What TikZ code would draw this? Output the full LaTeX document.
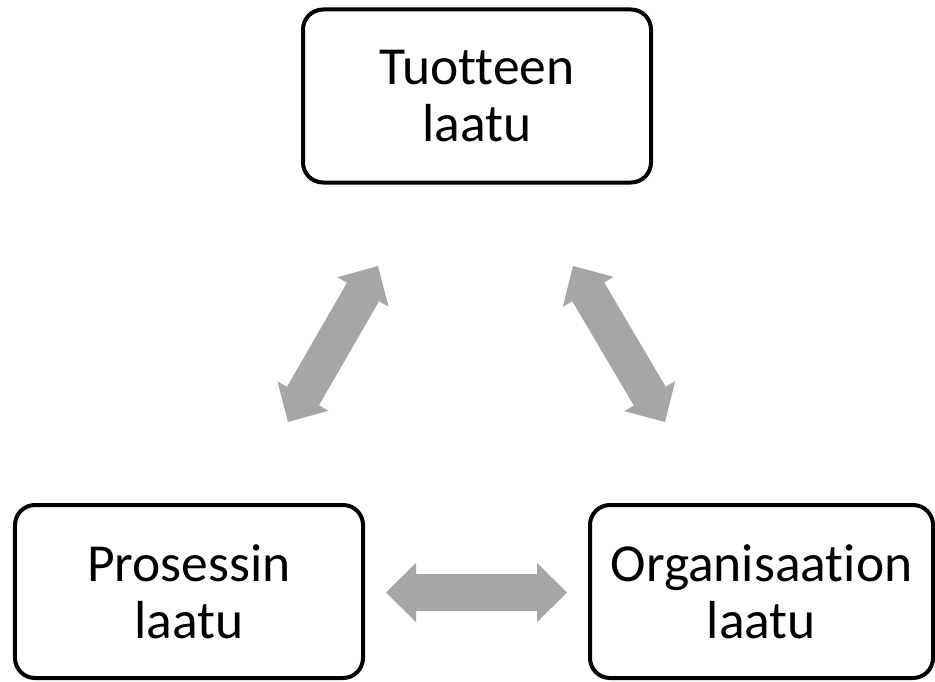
\documentclass[tikz,border=0pt]{standalone}
\usepackage{fontspec}
\setmainfont{Carlito}[Ligatures={NoCommon}]
\usetikzlibrary{calc}
\definecolor{arrowgray}{HTML}{A6A6A6}

\tikzset{
  qualitybox/.style={draw=black, line width=4bp, rounded corners=20bp,
    fill=white, minimum height=173bp, inner sep=0pt, align=center,
    font=\fontsize{53.5bp}{57bp}\selectfont},
  blockfill/.style={fill=arrowgray, draw=none}
}

% Filled double-headed block arrow between two named tip coordinates
\newcommand\blockarrow[2]{%
  \fill[blockfill]
    (#1)
    -- ($(#1)!30bp!(#2)!29.5bp!90:(#2)$)
    -- ($(#1)!30bp!(#2)!18.5bp!90:(#2)$)
    -- ($(#2)!30bp!(#1)!18.5bp!-90:(#1)$)
    -- ($(#2)!30bp!(#1)!29.5bp!-90:(#1)$)
    -- (#2)
    -- ($(#2)!30bp!(#1)!29.5bp!90:(#1)$)
    -- ($(#2)!30bp!(#1)!18.5bp!90:(#1)$)
    -- ($(#1)!30bp!(#2)!18.5bp!-90:(#2)$)
    -- ($(#1)!30bp!(#2)!29.5bp!-90:(#2)$)
    -- cycle;}

\begin{document}
\begin{tikzpicture}[x=1bp, y=-1bp]
  \useasboundingbox[fill=white] (0,0) rectangle (935,682);

  % the three quality areas
  \node[qualitybox, minimum width=348bp] (tuote) at (477,96)
    {Tuotteen\\laatu};
  \node[qualitybox, minimum width=348bp] (prosessi) at (189,591.5)
    {Prosessin\\laatu};
  \node[qualitybox, minimum width=343bp] (organisaatio) at (761.5,591.5)
    {Organisaation\\laatu};

  % arrow tips
  \coordinate (l1) at (288,422);
  \coordinate (l2) at (378,266);
  \coordinate (r1) at (573,266);
  \coordinate (r2) at (665,422);
  \coordinate (h1) at (386,592.5);
  \coordinate (h2) at (567,592.5);

  \blockarrow{l1}{l2}
  \blockarrow{r1}{r2}
  \blockarrow{h1}{h2}
\end{tikzpicture}
\end{document}
